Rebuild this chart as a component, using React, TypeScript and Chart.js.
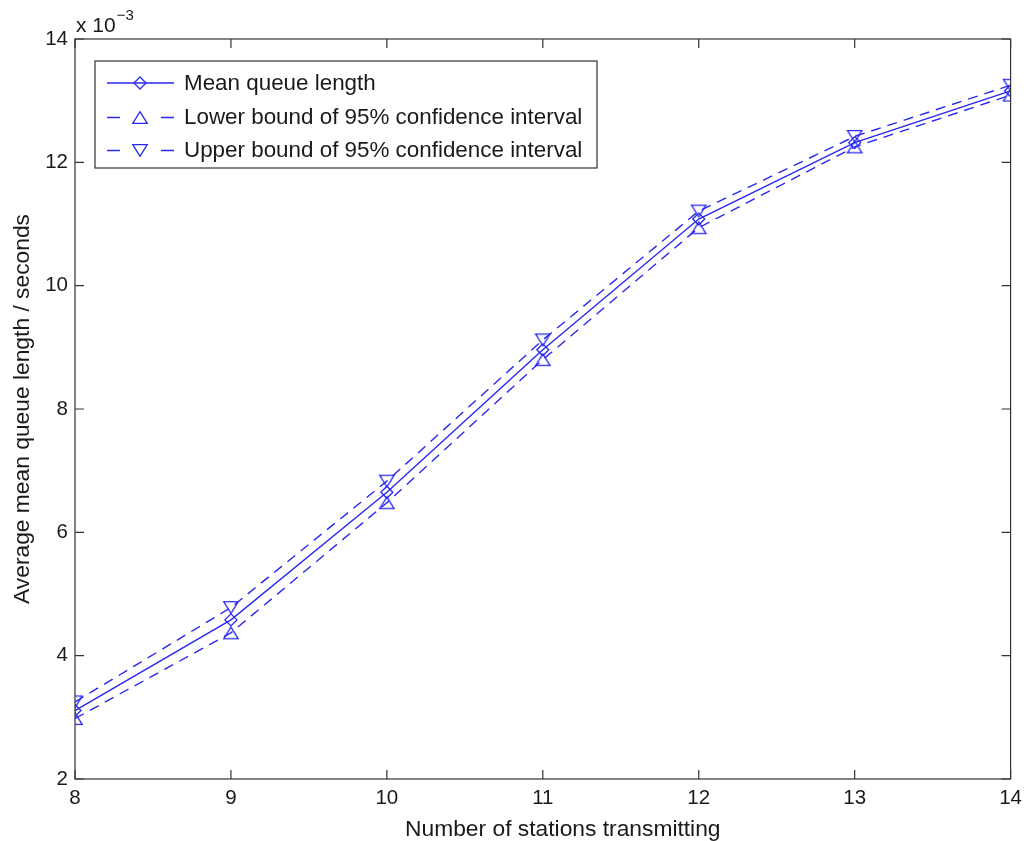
import React, { useEffect, useRef } from "react";
import { Chart, registerables } from "chart.js";
import { drawPoint } from "chart.js/helpers";

Chart.register(...registerables);

// Number of stations transmitting
const stations = [8, 9, 10, 11, 12, 13, 14];
// Average mean queue length (x 10^-3 s)
const meanQueue = [3.11, 4.58, 6.65, 8.96, 11.08, 12.32, 13.16];
const lowerBound = [2.98, 4.37, 6.48, 8.8, 10.94, 12.25, 13.09];
const upperBound = [3.25, 4.78, 6.83, 9.12, 11.21, 12.42, 13.25];

const seriesLabels = [
  "Mean queue length",
  "Lower bound of 95% confidence interval",
  "Upper bound of 95% confidence interval",
];

const xTitle = "Number of stations transmitting";
const yTitle = "Average mean queue length / seconds";

const xTicks = [8, 9, 10, 11, 12, 13, 14];
const yTicks = [2, 4, 6, 8, 10, 12, 14];

const BLUE = "rgb(40,40,240)";
const FONT = "'Liberation Sans', Arial, Helvetica, sans-serif";
const TEXT = "#1a1a1a";
const AXIS = "#333333";

const toPoints = (ys: number[]) => stations.map((x, i) => ({ x, y: ys[i] }));

// triangle marker centred on its bounding box (MATLAB-like)
function makeTriangle(up: boolean): HTMLCanvasElement {
  const c = document.createElement("canvas");
  const W = 18, H = 15;
  c.width = W;
  c.height = H;
  const g = c.getContext("2d")!;
  const hw = 7.2, hh = 5.8;
  const cx = W / 2, cy = H / 2;
  g.strokeStyle = BLUE;
  g.lineWidth = 1.3;
  g.lineJoin = "miter";
  g.beginPath();
  if (up) {
    g.moveTo(cx, cy - hh);
    g.lineTo(cx + hw, cy + hh);
    g.lineTo(cx - hw, cy + hh);
  } else {
    g.moveTo(cx, cy + hh);
    g.lineTo(cx + hw, cy - hh);
    g.lineTo(cx - hw, cy - hh);
  }
  g.closePath();
  g.stroke();
  return c;
}

const framePlugin = {
  id: "frame",
  beforeDraw(chart: any) {
    const ctx = chart.ctx;
    ctx.save();
    ctx.fillStyle = "#ffffff";
    ctx.fillRect(0, 0, chart.width, chart.height);
    ctx.restore();
  },
  afterDraw(chart: any) {
    const { ctx, chartArea: a, scales } = chart;
    ctx.save();
    ctx.strokeStyle = AXIS;
    ctx.lineWidth = 1.2;
    ctx.setLineDash([]);
    ctx.strokeRect(a.left, a.top, a.right - a.left, a.bottom - a.top);
    const tl = 9;
    ctx.beginPath();
    for (const v of xTicks) {
      const px = scales.x.getPixelForValue(v);
      ctx.moveTo(px, a.bottom);
      ctx.lineTo(px, a.bottom - tl);
      ctx.moveTo(px, a.top);
      ctx.lineTo(px, a.top + tl);
    }
    for (const v of yTicks) {
      const py = scales.y.getPixelForValue(v);
      ctx.moveTo(a.left, py);
      ctx.lineTo(a.left + tl, py);
      ctx.moveTo(a.right, py);
      ctx.lineTo(a.right - tl, py);
    }
    ctx.stroke();

    // x-axis title (offset to the right, as in the reference)
    ctx.fillStyle = TEXT;
    ctx.font = `22.8px ${FONT}`;
    ctx.textAlign = "center";
    ctx.textBaseline = "middle";
    ctx.fillText(xTitle, (a.left + a.right) / 2 + 20, 830);

    // exponent label
    ctx.textBaseline = "alphabetic";
    ctx.textAlign = "left";
    ctx.font = `21px ${FONT}`;
    ctx.fillText("x 10", a.left + 1, 32);
    const w = ctx.measureText("x 10").width;
    ctx.font = `15px ${FONT}`;
    ctx.fillText("\u22123", a.left + 1 + w + 1, 20);

    // legend
    const lx = 95, ly = 61, lw = 502, lh = 107;
    ctx.fillStyle = "#ffffff";
    ctx.fillRect(lx, ly, lw, lh);
    ctx.strokeStyle = AXIS;
    ctx.lineWidth = 1.2;
    ctx.strokeRect(lx, ly, lw, lh);
    const rows = [83, 117.5, 150.5];
    chart.data.datasets.forEach((ds: any, i: number) => {
      const y = rows[i];
      ctx.strokeStyle = ds.borderColor;
      ctx.lineWidth = ds.borderWidth;
      if (ds.borderDash && ds.borderDash.length) {
        ctx.setLineDash([13, 41]);
      } else {
        ctx.setLineDash([]);
      }
      ctx.beginPath();
      ctx.moveTo(107, y);
      ctx.lineTo(174, y);
      ctx.stroke();
      ctx.setLineDash([]);
      ctx.lineWidth = ds.pointBorderWidth;
      ctx.fillStyle = "rgba(0,0,0,0)";
      drawPoint(ctx, {
        pointStyle: ds.pointStyle,
        rotation: 0,
        radius: ds.pointRadius,
        borderWidth: ds.pointBorderWidth,
      } as any, 140, y);
      ctx.fillStyle = TEXT;
      ctx.font = `22.4px ${FONT}`;
      ctx.textBaseline = "middle";
      ctx.textAlign = "left";
      ctx.fillText(ds.label, 184, y + 0.5);
    });
    ctx.restore();
  },
};

export default function App() {
  const ref = useRef<HTMLCanvasElement | null>(null);
  useEffect(() => {
    if (!ref.current) return;
    const triUp = makeTriangle(true);
    const triDown = makeTriangle(false);
    const common = {
      borderColor: BLUE,
      borderWidth: 1.4,
      pointBorderColor: BLUE,
      pointBackgroundColor: "rgba(0,0,0,0)",
      pointBorderWidth: 1.3,
      fill: false,
      tension: 0,
    };
    const chart = new Chart(ref.current, {
      type: "line",
      data: {
        datasets: [
          {
            ...common,
            label: seriesLabels[0],
            data: toPoints(meanQueue),
            pointStyle: "rectRot",
            pointRadius: 6,
          },
          {
            ...common,
            label: seriesLabels[1],
            data: toPoints(lowerBound),
            borderDash: [10, 7],
            pointStyle: triUp,
            pointRadius: 7.5,
          },
          {
            ...common,
            label: seriesLabels[2],
            data: toPoints(upperBound),
            borderDash: [10, 7],
            pointStyle: triDown,
            pointRadius: 7.5,
          },
        ],
      },
      options: {
        responsive: false,
        animation: false,
        devicePixelRatio: 1,
        layout: { padding: { top: 39, right: 18, left: 0, bottom: 0 } },
        plugins: {
          legend: { display: false },
          tooltip: { enabled: false },
        },
        elements: { line: { borderCapStyle: "butt" } },
        scales: {
          x: {
            type: "linear",
            min: 8,
            max: 14,
            afterBuildTicks: (s: any) => {
              s.ticks = xTicks.map((v) => ({ value: v }));
            },
            afterFit: (s: any) => {
              s.height = 62;
            },
            grid: { display: false, drawTicks: false },
            border: { display: false },
            ticks: {
              padding: 7,
              color: TEXT,
              font: { family: FONT, size: 20.5 },
              maxRotation: 0,
              autoSkip: false,
            },
            title: { display: false },
          },
          y: {
            type: "linear",
            min: 2,
            max: 14,
            afterBuildTicks: (s: any) => {
              s.ticks = yTicks.map((v) => ({ value: v }));
            },
            afterFit: (s: any) => {
              s.width = 75;
            },
            grid: { display: false, drawTicks: false },
            border: { display: false },
            ticks: {
              padding: 7,
              color: TEXT,
              font: { family: FONT, size: 20.5 },
              autoSkip: false,
            },
            title: {
              display: true,
              text: yTitle,
              color: TEXT,
              font: { family: FONT, size: 22.8, lineHeight: 1 },
              padding: { top: 11, bottom: 0 },
            },
          },
        },
      },
      plugins: [framePlugin],
    } as any);
    return () => chart.destroy();
  }, []);
  return (
    <div style={{ position: "absolute", left: 0, top: 0, width: 1029, height: 841, background: "#fff" }}>
      <canvas ref={ref} width={1029} height={841} style={{ display: "block" }} />
    </div>
  );
}
